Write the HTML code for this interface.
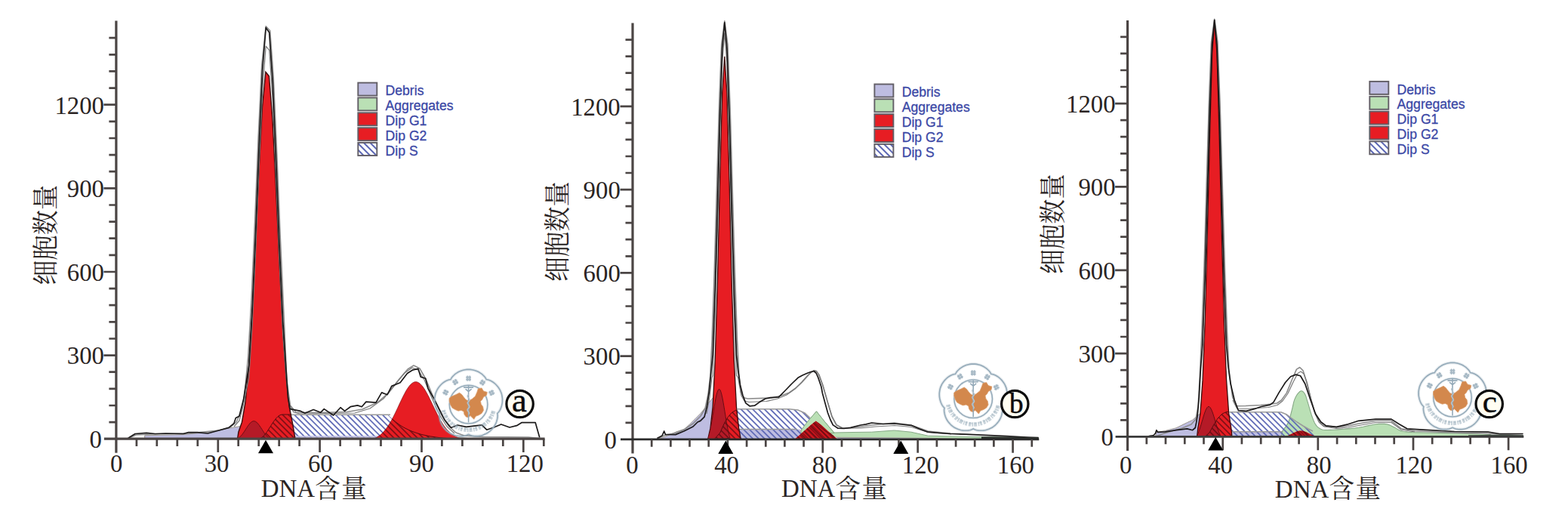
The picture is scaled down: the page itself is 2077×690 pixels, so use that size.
<!DOCTYPE html>
<html><head><meta charset="utf-8"><title>DNA content histograms</title><style>html,body{margin:0;padding:0;background:#fff}svg{display:block}</style></head><body><svg width="2077" height="690" viewBox="0 0 2077 690"><rect width="2077" height="690" fill="#fff"/><defs><pattern id="hb" width="5.5" height="5.5" patternUnits="userSpaceOnUse" patternTransform="rotate(45)"><path d="M0 2.7H5.5" stroke="#5b66b4" stroke-width="1.7"/></pattern><pattern id="hl" width="6" height="6" patternUnits="userSpaceOnUse" patternTransform="rotate(45)"><path d="M0 3H6" stroke="#5b66b4" stroke-width="2"/></pattern><pattern id="hd" width="5.5" height="5.5" patternUnits="userSpaceOnUse" patternTransform="rotate(45)"><path d="M0 2.7H5.5" stroke="#5a0a10" stroke-width="1.3"/></pattern><pattern id="hd2" width="4" height="4" patternUnits="userSpaceOnUse" patternTransform="rotate(45)"><path d="M0 2H4" stroke="#6a0a10" stroke-width="1.2"/></pattern></defs><path d="M191.7 581.2L191.7 576.8L242.7 575.6L277.5 572L300.7 567.5L321.6 564L340 562L360 566L382 575.5L440 577L520 578L600 579.5L640 581.2Z" fill="#bebde1" stroke="#9c978f" stroke-width="1"/><path d="M342 581.2L342 581.2L344 580.9L346 580L348 578.5L350 576.5L352 574L354 571.3L356 568.2L358 565.1L360 562L362 558.9L364 556.2L366 553.7L368 551.7L370 550.2L372 549.3L374 549L376 549L378 549L380 549L382 549L384 549L386 549L388 549L390 549L392 549L394 549L396 549L398 549L400 549L402 549L404 549L406 549L408 549L410 549L412 549L414 549L416 549L418 549L420 549L422 549L424 549L426 549L428 549L430 549L432 549L434 549L436 549L438 549L440 549L442 549L444 549L446 549L448 549L450 549L452 549L454 549L456 549L458 549L460 549L462 549L464 549L466 549L468 549L470 549L472 549L474 549L476 549L478 549L480 549L482 549L484 549L486 549L488 549L490 549L492 549L494 549L496 549L498 549L500 549L502 549L504 549L506 549L508 549L510 549L512 549L514 549L516 551.2L518 553.3L520 555.2L522 557L524 558.7L526 560.2L528 561.7L530 563.1L532 564.4L534 565.6L536 566.7L538 567.7L540 568.7L542 569.7L544 570.5L546 571.3L548 572.1L550 572.8L552 573.5L554 574.1L556 574.7L558 575.3L560 575.8L562 576.2L564 576.7L566 577.1L568 577.5L570 577.9L572 578.2L574 578.5L576 578.8L578 579.1L580 579.3L582 579.6L584 579.8L586 580L588 580.2L590 580.3L592 580.5L594 580.6L596 580.8L598 580.9L600 581L602 581.1L604 581.2L604 581.2Z" fill="#fff"/><path d="M342 581.2L342 581.2L344 580.9L346 580L348 578.5L350 576.5L352 574L354 571.3L356 568.2L358 565.1L360 562L362 558.9L364 556.2L366 553.7L368 551.7L370 550.2L372 549.3L374 549L376 549L378 549L380 549L382 549L384 549L386 549L388 549L390 549L392 549L394 549L396 549L398 549L400 549L402 549L404 549L406 549L408 549L410 549L412 549L414 549L416 549L418 549L420 549L422 549L424 549L426 549L428 549L430 549L432 549L434 549L436 549L438 549L440 549L442 549L444 549L446 549L448 549L450 549L452 549L454 549L456 549L458 549L460 549L462 549L464 549L466 549L468 549L470 549L472 549L474 549L476 549L478 549L480 549L482 549L484 549L486 549L488 549L490 549L492 549L494 549L496 549L498 549L500 549L502 549L504 549L506 549L508 549L510 549L512 549L514 549L516 551.2L518 553.3L520 555.2L522 557L524 558.7L526 560.2L528 561.7L530 563.1L532 564.4L534 565.6L536 566.7L538 567.7L540 568.7L542 569.7L544 570.5L546 571.3L548 572.1L550 572.8L552 573.5L554 574.1L556 574.7L558 575.3L560 575.8L562 576.2L564 576.7L566 577.1L568 577.5L570 577.9L572 578.2L574 578.5L576 578.8L578 579.1L580 579.3L582 579.6L584 579.8L586 580L588 580.2L590 580.3L592 580.5L594 580.6L596 580.8L598 580.9L600 581L602 581.1L604 581.2L604 581.2Z" fill="url(#hb)"/><path d="M384 577H520V581.2H384z" fill="#bebde1" opacity=".8"/><path d="M382 549.2H517" fill="none" stroke="#9a9a9a" stroke-width="1.6"/><clipPath id="cA"><path d="M314.6 581.2L315.9 572.2L320.4 559.2L324.9 533.1L329.4 487.3L333.9 417.5L338.4 326.5L342.9 227.4L347.4 142.3L351.9 95.2L356.4 100.7L360.9 157L365.4 246.9L369.9 345.9L374.4 433.4L378.9 498.3L383.4 539.7L387.9 562.6L391 581.2Z"/><path d="M494.7 581.2L495.7 580.8L496.7 580.4L497.7 579.9L498.7 579.4L499.7 578.8L500.7 578.2L501.7 577.5L502.7 576.8L503.7 576L504.7 575.2L505.7 574.3L506.7 573.3L507.7 572.3L508.7 571.2L509.7 570L510.7 568.8L511.7 567.5L512.7 566.1L513.7 564.7L514.7 563.1L515.7 561.6L516.7 559.9L517.7 558.2L518.7 556.4L519.7 554.6L520.7 552.7L521.7 550.7L522.7 548.7L523.7 546.7L524.7 544.6L525.7 542.5L526.7 540.4L527.7 538.2L528.7 536.1L529.7 533.9L530.7 531.8L531.7 529.7L532.7 527.6L533.7 525.6L534.7 523.6L535.7 521.7L536.7 519.8L537.7 518L538.7 516.3L539.7 514.7L540.7 513.2L541.7 511.9L542.7 510.6L543.7 509.5L544.7 508.5L545.7 507.7L546.7 507L547.7 506.4L548.7 506L549.7 505.8L550.7 505.7L551.7 505.8L552.7 506L553.7 506.4L554.7 506.9L555.7 507.6L556.7 508.4L557.7 509.4L558.7 510.5L559.7 511.7L560.7 513.1L561.7 514.5L562.7 516.1L563.7 517.8L564.7 519.5L565.7 521.3L566.7 523.2L567.7 525.1L568.7 527.1L569.7 529.2L570.7 531.2L571.7 533.3L572.7 535.4L573.7 537.5L574.7 539.6L575.7 541.7L576.7 543.7L577.7 545.8L578.7 547.8L579.7 549.7L580.7 551.6L581.7 553.5L582.7 555.3L583.7 557L584.7 558.7L585.7 560.3L586.7 561.9L587.7 563.3L588.7 564.8L589.7 566.1L590.7 567.4L591.7 568.6L592.7 569.7L593.7 570.8L594.7 571.8L595.7 572.7L596.7 573.6L597.7 574.4L598.7 575.2L599.7 575.9L600.7 576.6L601.7 577.2L602.7 577.7L603.7 578.2L604.7 578.7L605.7 579.1L606.7 579.5L607.7 579.9L608.7 580.2L609.7 580.5L610.7 580.8L611.7 581L612.7 581.2Z"/></clipPath><path d="M494.7 581.2L495.7 580.8L496.7 580.4L497.7 579.9L498.7 579.4L499.7 578.8L500.7 578.2L501.7 577.5L502.7 576.8L503.7 576L504.7 575.2L505.7 574.3L506.7 573.3L507.7 572.3L508.7 571.2L509.7 570L510.7 568.8L511.7 567.5L512.7 566.1L513.7 564.7L514.7 563.1L515.7 561.6L516.7 559.9L517.7 558.2L518.7 556.4L519.7 554.6L520.7 552.7L521.7 550.7L522.7 548.7L523.7 546.7L524.7 544.6L525.7 542.5L526.7 540.4L527.7 538.2L528.7 536.1L529.7 533.9L530.7 531.8L531.7 529.7L532.7 527.6L533.7 525.6L534.7 523.6L535.7 521.7L536.7 519.8L537.7 518L538.7 516.3L539.7 514.7L540.7 513.2L541.7 511.9L542.7 510.6L543.7 509.5L544.7 508.5L545.7 507.7L546.7 507L547.7 506.4L548.7 506L549.7 505.8L550.7 505.7L551.7 505.8L552.7 506L553.7 506.4L554.7 506.9L555.7 507.6L556.7 508.4L557.7 509.4L558.7 510.5L559.7 511.7L560.7 513.1L561.7 514.5L562.7 516.1L563.7 517.8L564.7 519.5L565.7 521.3L566.7 523.2L567.7 525.1L568.7 527.1L569.7 529.2L570.7 531.2L571.7 533.3L572.7 535.4L573.7 537.5L574.7 539.6L575.7 541.7L576.7 543.7L577.7 545.8L578.7 547.8L579.7 549.7L580.7 551.6L581.7 553.5L582.7 555.3L583.7 557L584.7 558.7L585.7 560.3L586.7 561.9L587.7 563.3L588.7 564.8L589.7 566.1L590.7 567.4L591.7 568.6L592.7 569.7L593.7 570.8L594.7 571.8L595.7 572.7L596.7 573.6L597.7 574.4L598.7 575.2L599.7 575.9L600.7 576.6L601.7 577.2L602.7 577.7L603.7 578.2L604.7 578.7L605.7 579.1L606.7 579.5L607.7 579.9L608.7 580.2L609.7 580.5L610.7 580.8L611.7 581L612.7 581.2Z" fill="#e71d23" stroke="#8a1216" stroke-width=".8"/><path d="M314.6 581.2L315.9 572.2L320.4 559.2L324.9 533.1L329.4 487.3L333.9 417.5L338.4 326.5L342.9 227.4L347.4 142.3L351.9 95.2L356.4 100.7L360.9 157L365.4 246.9L369.9 345.9L374.4 433.4L378.9 498.3L383.4 539.7L387.9 562.6L391 581.2Z" fill="#e71d23" stroke="#3a0c0c" stroke-width="1.4"/><g clip-path="url(#cA)"><path d="M314.7 581.2L315.7 580.5L316.7 579.7L317.7 578.8L318.7 577.8L319.7 576.7L320.7 575.5L321.7 574.2L322.7 572.8L323.7 571.3L324.7 569.8L325.7 568.2L326.7 566.7L327.7 565.2L328.7 563.7L329.7 562.4L330.7 561.1L331.7 560.1L332.7 559.1L333.7 558.4L334.7 558L335.7 557.7L336.7 557.7L337.7 558L338.7 558.4L339.7 559.1L340.7 560.1L341.7 561.1L342.7 562.4L343.7 563.7L344.7 565.2L345.7 566.7L346.7 568.2L347.7 569.8L348.7 571.3L349.7 572.8L350.7 574.2L351.7 575.5L352.7 576.7L353.7 577.8L354.7 578.8L355.7 579.7L356.7 580.5L357.7 581.2Z" fill="#b51a27" stroke="#6a0d14" stroke-width="1"/><path d="M342 581.2L342 581.2L344 580.9L346 580L348 578.5L350 576.5L352 574L354 571.3L356 568.2L358 565.1L360 562L362 558.9L364 556.2L366 553.7L368 551.7L370 550.2L372 549.3L374 549L376 549L378 549L380 549L382 549L384 549L386 549L388 549L390 549L392 549L394 549L396 549L398 549L400 549L402 549L404 549L406 549L408 549L410 549L412 549L414 549L416 549L418 549L420 549L422 549L424 549L426 549L428 549L430 549L432 549L434 549L436 549L438 549L440 549L442 549L444 549L446 549L448 549L450 549L452 549L454 549L456 549L458 549L460 549L462 549L464 549L466 549L468 549L470 549L472 549L474 549L476 549L478 549L480 549L482 549L484 549L486 549L488 549L490 549L492 549L494 549L496 549L498 549L500 549L502 549L504 549L506 549L508 549L510 549L512 549L514 549L516 551.2L518 553.3L520 555.2L522 557L524 558.7L526 560.2L528 561.7L530 563.1L532 564.4L534 565.6L536 566.7L538 567.7L540 568.7L542 569.7L544 570.5L546 571.3L548 572.1L550 572.8L552 573.5L554 574.1L556 574.7L558 575.3L560 575.8L562 576.2L564 576.7L566 577.1L568 577.5L570 577.9L572 578.2L574 578.5L576 578.8L578 579.1L580 579.3L582 579.6L584 579.8L586 580L588 580.2L590 580.3L592 580.5L594 580.6L596 580.8L598 580.9L600 581L602 581.1L604 581.2L604 581.2Z" fill="url(#hd)" stroke="#5a0c10" stroke-width="1"/></g><path d="M170 580.5L180 576L200 575L250 574L290 570L305 566L313 559L319 546L323.5 527L328.7 472.1L333.2 393.1L337.7 291.1L342.2 180.8L346.7 86.7L352.2 34.7L357.7 40.7L362.2 102.9L366.7 202.5L371.2 312.8L375.7 411L380 505L384.5 537L392 546L420 546.5L460 545.5L480 542L500 533L515 520L528 503L540 489L548 484L556 488L564 502L574 526L584 548L594 564L604 573L615 577L640 578.5L700 579L714 580.5" fill="none" stroke="#8c8c8c" stroke-width="1.6" stroke-linejoin="round"/><path d="M310 565L317 557L322 538L329.7 500.4L334.2 429.9L338.7 331.8L343.2 219.2L347.7 118.8L352.2 61.2L356.7 66.5L361.2 132.7L365.7 237.2L370.2 349L374.7 443.2L379 500L383 535L389 546L397 548L470 547L490 541L508 528L522 511L536 494L546 487L554 490L562 503L572 527L582 549L592 565L602 574" fill="none" stroke="#7a7a7a" stroke-width="1.2" stroke-linejoin="round"/><path d="M169.7 580.3L179 574.5L194 573.3L205.6 574.5L219.6 574L242.7 574.5L249.7 572.6L261.3 572.6L275.2 574L289.1 570.3L303 566.4L310 560.6L312.3 553.6L316.9 551.3L322.7 528.1L329.7 484.1L334.2 407.3L338.7 304.7L343.2 190.9L347.7 92L352.2 36.7L356.7 43.1L361.2 109.1L365.7 213.4L370.2 326.8L374.7 425L378.2 478L381.5 526.5L384.1 541.6L398.2 544.4L403.9 547.2L415.2 542.5L424.6 546.3L429.3 541.6L441.6 550L451 539.7L456.6 544.4L464.2 538.7L473.6 536.9L479.2 538.7L484.9 532.1L498 533.1L505.6 519.9L513.1 522.7L518.8 511.4L530.1 506.7L539.5 494.5L547 489.8L553.9 488.3L557.2 499.1L563.7 501.3L567 514.3L575.7 529.6L582.2 542.6L588.7 555.7L597.4 566.5L606 563L617.6 565.3L638.3 562.9L644.7 569.2L654.2 566L663.8 562L675 566L684.5 563.7L690.9 559.7L709.2 559.7L714.8 579.6" fill="none" stroke="#1c1a1a" stroke-width="1.7" stroke-linejoin="round"/><g transform="translate(620.6 534.6)" fill="none" stroke="#93a9b8"><path d="M44.4 0.5L43.9 2.8L43.2 5L42.3 7.2L41.2 9.3L39.9 11.2L38.2 12.9L38.6 15.3L38.5 17.6L38.1 19.9L37.6 22.2L36.9 24.4L36 26.6L34.9 28.7L33.6 30.7L32.1 32.6L30.5 34.4L28.8 36.1L26.9 37.6L24.9 38.9L22.8 40L20.6 41L18.4 41.8L16.1 42.4L13.7 42.8L11.4 43L9 43L6.7 42.8L4.4 42.4L2.2 41.7L0 40.7L-2.2 41.7L-4.4 42.4L-6.7 42.8L-9 43L-11.4 43L-13.7 42.8L-16.1 42.4L-18.4 41.8L-20.6 41L-22.8 40L-24.9 38.9L-26.9 37.6L-28.8 36.1L-30.5 34.4L-32.1 32.6L-33.6 30.7L-34.9 28.7L-36 26.6L-36.9 24.4L-37.6 22.2L-38.1 19.9L-38.5 17.6L-38.6 15.3L-38.2 12.9L-39.9 11.2L-41.2 9.3L-42.3 7.2L-43.2 5L-43.9 2.8L-44.4 0.5L-44.8 -1.8L-44.9 -4.2L-44.9 -6.6L-44.6 -9L-44.2 -11.3L-43.6 -13.7L-42.7 -15.9L-41.7 -18.1L-40.5 -20.1L-39.1 -22.1L-37.6 -23.9L-36 -25.6L-34.2 -27.2L-32.3 -28.6L-30.3 -29.8L-28.2 -30.8L-26 -31.6L-23.6 -32L-22.5 -34.1L-21 -36L-19.4 -37.6L-17.7 -39.2L-15.8 -40.5L-13.7 -41.8L-11.6 -42.8L-9.4 -43.7L-7.1 -44.4L-4.8 -44.9L-2.4 -45.2L0 -45.3L2.4 -45.2L4.8 -44.9L7.1 -44.4L9.4 -43.7L11.6 -42.8L13.7 -41.8L15.8 -40.5L17.7 -39.2L19.4 -37.6L21 -36L22.5 -34.1L23.6 -32L26 -31.6L28.2 -30.8L30.3 -29.8L32.3 -28.6L34.2 -27.2L36 -25.6L37.6 -23.9L39.1 -22.1L40.5 -20.1L41.7 -18.1L42.7 -15.9L43.6 -13.7L44.2 -11.3L44.6 -9L44.9 -6.6L44.9 -4.2L44.8 -1.8Z" stroke-width="4" opacity=".22"/><path d="M44.4 0.5L43.9 2.8L43.2 5L42.3 7.2L41.2 9.3L39.9 11.2L38.2 12.9L38.6 15.3L38.5 17.6L38.1 19.9L37.6 22.2L36.9 24.4L36 26.6L34.9 28.7L33.6 30.7L32.1 32.6L30.5 34.4L28.8 36.1L26.9 37.6L24.9 38.9L22.8 40L20.6 41L18.4 41.8L16.1 42.4L13.7 42.8L11.4 43L9 43L6.7 42.8L4.4 42.4L2.2 41.7L0 40.7L-2.2 41.7L-4.4 42.4L-6.7 42.8L-9 43L-11.4 43L-13.7 42.8L-16.1 42.4L-18.4 41.8L-20.6 41L-22.8 40L-24.9 38.9L-26.9 37.6L-28.8 36.1L-30.5 34.4L-32.1 32.6L-33.6 30.7L-34.9 28.7L-36 26.6L-36.9 24.4L-37.6 22.2L-38.1 19.9L-38.5 17.6L-38.6 15.3L-38.2 12.9L-39.9 11.2L-41.2 9.3L-42.3 7.2L-43.2 5L-43.9 2.8L-44.4 0.5L-44.8 -1.8L-44.9 -4.2L-44.9 -6.6L-44.6 -9L-44.2 -11.3L-43.6 -13.7L-42.7 -15.9L-41.7 -18.1L-40.5 -20.1L-39.1 -22.1L-37.6 -23.9L-36 -25.6L-34.2 -27.2L-32.3 -28.6L-30.3 -29.8L-28.2 -30.8L-26 -31.6L-23.6 -32L-22.5 -34.1L-21 -36L-19.4 -37.6L-17.7 -39.2L-15.8 -40.5L-13.7 -41.8L-11.6 -42.8L-9.4 -43.7L-7.1 -44.4L-4.8 -44.9L-2.4 -45.2L0 -45.3L2.4 -45.2L4.8 -44.9L7.1 -44.4L9.4 -43.7L11.6 -42.8L13.7 -41.8L15.8 -40.5L17.7 -39.2L19.4 -37.6L21 -36L22.5 -34.1L23.6 -32L26 -31.6L28.2 -30.8L30.3 -29.8L32.3 -28.6L34.2 -27.2L36 -25.6L37.6 -23.9L39.1 -22.1L40.5 -20.1L41.7 -18.1L42.7 -15.9L43.6 -13.7L44.2 -11.3L44.6 -9L44.9 -6.6L44.9 -4.2L44.8 -1.8Z" stroke-width="1.6"/><circle r="25.3" cy="1" stroke-width="3.4" opacity=".2"/><circle r="25.3" cy="1" stroke-width="1.5"/><path d="M-33.5 8.5A34.5 34.5 0 0 0 33.5 8.5" stroke-width="5.6" stroke-dasharray="3 1.3 2 .9 4 1.5 1.5 1.1 2.6 1.8" opacity=".5"/><path d="M-32.5 9.5A34 34 0 0 0 32.5 9.5" stroke-width="2.2" stroke-dasharray="5 2.4 3 2" opacity=".35"/><g transform="translate(-30.3 -14.9) rotate(-63)" stroke-width="1.3" opacity=".85"><rect x="-3.2" y="-3.2" width="6.4" height="6.4" fill="#c3d0d8" stroke="none"/><path d="M-3.4 -1.2H3.4M-3.4 1.6H3.4M-1.4 -3.6V3.6M1.6 -3.6V3.6"/></g><g transform="translate(-17.5 -28.6) rotate(-31)" stroke-width="1.3" opacity=".85"><rect x="-3.2" y="-3.2" width="6.4" height="6.4" fill="#c3d0d8" stroke="none"/><path d="M-3.4 -1.2H3.4M-3.4 1.6H3.4M-1.4 -3.6V3.6M1.6 -3.6V3.6"/></g><g transform="translate(0 -33.5) rotate(0)" stroke-width="1.3" opacity=".85"><rect x="-3.2" y="-3.2" width="6.4" height="6.4" fill="#c3d0d8" stroke="none"/><path d="M-3.4 -1.2H3.4M-3.4 1.6H3.4M-1.4 -3.6V3.6M1.6 -3.6V3.6"/></g><g transform="translate(18.5 -28) rotate(33)" stroke-width="1.3" opacity=".85"><rect x="-3.2" y="-3.2" width="6.4" height="6.4" fill="#c3d0d8" stroke="none"/><path d="M-3.4 -1.2H3.4M-3.4 1.6H3.4M-1.4 -3.6V3.6M1.6 -3.6V3.6"/></g><g transform="translate(30.6 -14.4) rotate(64)" stroke-width="1.3" opacity=".85"><rect x="-3.2" y="-3.2" width="6.4" height="6.4" fill="#c3d0d8" stroke="none"/><path d="M-3.4 -1.2H3.4M-3.4 1.6H3.4M-1.4 -3.6V3.6M1.6 -3.6V3.6"/></g><path stroke="#dca06f" stroke-width=".8" fill="#d3884d" d="M-25.5 -7.2L-22.3 -9.6L-16.7 -12L-12 -14.4L-8.8 -12L-6.4 -8.8L-3.5 -5.3L0 -3.5L4.5 -6.1L8.8 -9.6L11.2 -15.2L12.8 -19.9L17.5 -20.7L19.9 -16.7L24.7 -15.2L23.9 -11.2L19.9 -8.8L18.3 -5.6L15.9 -3.2L16.7 0.8L19.1 4L19.9 8.8L17.5 12.8L13.6 15.2L9.6 16.7L7.2 20.7L4.8 18.3L2.4 15.9L0 18.3L-3.2 17.5L-5.6 14.4L-6.4 10.4L-9.6 8.8L-13.6 9.6L-17.5 8L-21.5 5.6L-23.9 1.6L-25.5 -3.2Z"/><path d="M0 -23.5V25M-6.5 -21.5H6.5M-4 -19.5L0 -16 4 -19.5" stroke-width="1.6"/><path d="M0 -12c-5 3 5 6 0 9s5 6 0 9 4 6 0 8" stroke-width="1.5" stroke="#b4c3cd"/></g><circle cx="688.6" cy="535" r="17.7" fill="#fffef2" stroke="#0b0b0b" stroke-width="3.2"/><text x="678.1" y="544.9" font-family="Liberation Serif, serif" font-size="44.5" fill="#0b0b0b" stroke="#0b0b0b" stroke-width=".5">a</text><path d="M153.9 27.4V599.7" stroke="#4b4544" stroke-width="3.2" fill="none"/><path d="M137.9 581.2H721.6" stroke="#4b4544" stroke-width="3.2" fill="none"/><path d="M144.4 559.1h9.5M144.4 537h9.5M144.4 514.8h9.5M144.4 492.7h9.5M137.4 470.6h16.5M144.4 448.5h9.5M144.4 426.3h9.5M144.4 404.2h9.5M144.4 382.1h9.5M137.4 360h16.5M144.4 337.8h9.5M144.4 315.7h9.5M144.4 293.6h9.5M144.4 271.5h9.5M137.4 249.3h16.5M144.4 227.2h9.5M144.4 205.1h9.5M144.4 183h9.5M144.4 160.8h9.5M137.4 138.7h16.5M144.4 116.6h9.5M144.4 94.4h9.5M144.4 72.3h9.5M144.4 50.2h9.5M180.9 581.2v9.8M207.8 581.2v9.8M234.8 581.2v9.8M261.8 581.2v9.8M288.8 581.2v17.8M315.7 581.2v9.8M342.7 581.2v9.8M369.7 581.2v9.8M396.6 581.2v9.8M423.6 581.2v17.8M450.6 581.2v9.8M477.5 581.2v9.8M504.5 581.2v9.8M531.5 581.2v9.8M558.5 581.2v17.8M585.4 581.2v9.8M612.4 581.2v9.8M639.4 581.2v9.8M666.3 581.2v9.8M693.3 581.2v17.8M720.3 581.2v9.8" stroke="#4b4544" stroke-width="2.7" fill="none"/><g font-family="Liberation Serif, serif" font-size="32.8" fill="#2a2423"><text transform="translate(118.4 593) scale(1 1.035)" text-anchor="start">0</text><text transform="translate(88.8 482.4) scale(1 1.035)" text-anchor="start">300</text><text transform="translate(88.8 371.8) scale(1 1.035)" text-anchor="start">600</text><text transform="translate(88.8 261.1) scale(1 1.035)" text-anchor="start">900</text><text transform="translate(72.4 150.5) scale(1 1.035)" text-anchor="start">1200</text><text transform="translate(145.9 625.3) scale(1 1.035)" text-anchor="start">0</text><text transform="translate(270.7 625.3) scale(1 1.035)" text-anchor="start">30</text><text transform="translate(407.9 625.3) scale(1 1.035)" text-anchor="start">60</text><text transform="translate(542.1 625.3) scale(1 1.035)" text-anchor="start">90</text><text transform="translate(670.7 625.3) scale(1 1.035)" text-anchor="start">120</text></g><path d="M352 582.7l-10 17.5h20z" fill="#000"/><g transform="translate(73.1 377.6) rotate(-90)"><text transform="scale(1 1.06)" x="0 33.2 66.4 99.6" y="0" font-family="'Liberation Serif', 'Noto Serif CJK SC', serif" font-size="33" fill="#2a2423">细胞数量</text></g><text transform="translate(345.7 658.3) scale(1 1.035)" font-family="Liberation Serif, serif" font-size="33" fill="#2a2423">DNA</text><text transform="translate(417.3 659.2) scale(1 1.03)" x="0 35" y="0" font-family="'Liberation Serif', 'Noto Serif CJK SC', serif" font-size="33.5" fill="#2a2423">含量</text><g font-family="Liberation Sans, sans-serif" font-size="17.6" fill="#3b48a6" stroke="#3b48a6" stroke-width=".3"><rect x="474.3" y="109.6" width="25" height="17" fill="#bebde1" stroke="#625e66" stroke-width="1.9"/><text x="510.6" y="126.2">Debris</text><rect x="474.3" y="129.4" width="25" height="17" fill="#bae0b5" stroke="#625e66" stroke-width="1.9"/><text x="510.6" y="146">Aggregates</text><rect x="474.3" y="149.3" width="25" height="17" fill="#e71d23" stroke="#625e66" stroke-width="1.9"/><text x="510.6" y="165.9">Dip G1</text><rect x="474.3" y="169.2" width="25" height="17" fill="#e71d23" stroke="#625e66" stroke-width="1.9"/><text x="510.6" y="185.8">Dip G2</text><rect x="474.3" y="189" width="25" height="17" fill="#fff"/><rect x="474.3" y="189" width="25" height="17" fill="url(#hl)" stroke="#625e66" stroke-width="1.9"/><text x="510.6" y="205.6">Dip S</text></g><path d="M1058 581.9L1060.4 570.7L1070 558L1081.5 544.8L1092 558L1105 573L1130 572.5L1154.6 572.2L1184.5 570L1206.9 572.2L1229.3 577.2L1280 578.3L1333.7 579L1362 580.2L1370 581.9Z" fill="#bae0b5" stroke="#86a886" stroke-width="1"/><path d="M874 581.9L877.6 579.5L886 576.3L895.7 571.9L906.6 568.3L913.8 561.7L921.1 554.5L928.3 547.2L934.1 540L940 532L944.6 526.5L952 521L960 530L972 556L980.6 568.4L1000 568.8L1040 570.5L1059 573.5L1075 578L1110 579.3L1230 580.3L1300 581.9Z" fill="#bebde1" stroke="#9c978f" stroke-width="1"/><path d="M946 581.9L953.9 573L959.1 561.3L964.3 552.2L969.5 546.3L974.8 543.2L980 541.8L1045 541.8L1057 543L1066 547L1073 553.6L1082 562L1092 570L1104 577L1112 581.9Z" fill="#fff"/><path d="M978 568.4H1059L1075 578V581.9H978z" fill="#bebde1"/><path d="M946 581.9L953.9 573L959.1 561.3L964.3 552.2L969.5 546.3L974.8 543.2L980 541.8L1045 541.8L1057 543L1066 547L1073 553.6L1082 562L1092 570L1104 577L1112 581.9Z" fill="url(#hb)"/><path d="M977 541.8H1045L1057 543 1066 547 1073 553.6M979 568.4H1056" fill="none" stroke="#9a9a9a" stroke-width="1.5"/><path d="M1061 570L1070 558 1081.5 544.8 1092 558 1105 573.5H1061z" fill="#bae0b5" stroke="#86a886" stroke-width="1"/><clipPath id="cB"><path d="M937.6 581.9L940.9 567.4L944.1 539L947.2 477.5L950.4 373.5L953.5 240.4L956.7 122.6L959.8 74.9L962.9 122.6L966.1 240.4L969.2 373.5L972.4 477.5L975.5 539L978.7 567.4L981.3 581.9Z"/><path d="M1052.3 581.9L1066 570L1075 562L1080.7 557.5L1087 562L1097 571L1110 581.9Z"/></clipPath><path d="M937.6 581.9L940.9 567.4L944.1 539L947.2 477.5L950.4 373.5L953.5 240.4L956.7 122.6L959.8 74.9L962.9 122.6L966.1 240.4L969.2 373.5L972.4 477.5L975.5 539L978.7 567.4L981.3 581.9Z" fill="#e71d23" stroke="#3a0c0c" stroke-width="1.3"/><path d="M1052.3 581.9L1066 570L1075 562L1080.7 557.5L1087 562L1097 571L1110 581.9Z" fill="#d3171f"/><g clip-path="url(#cB)"><path d="M937.1 581.9L938.1 579.1L939.1 575.7L940.1 571.7L941.1 567.2L942.1 562.1L943.1 556.6L944.1 550.7L945.1 544.7L946.1 538.7L947.1 532.9L948.1 527.6L949.1 523L950.1 519.4L951.1 516.9L952.1 515.6L953.1 515.6L954.1 516.9L955.1 519.5L956.1 523.2L957.1 527.9L958.1 533.3L959.1 539.2L960.1 545.3L961.1 551.5L962.1 557.5L963.1 563.1L964.1 568.3L965.1 572.9L966.1 576.9L967.1 580.4Z" fill="#b51a27" stroke="#6a0d14" stroke-width="1"/><path d="M946 581.9L953.9 573L959.1 561.3L964.3 552.2L969.5 546.3L974.8 543.2L980 541.8L1045 541.8L1057 543L1066 547L1073 553.6L1082 562L1092 570L1104 577L1112 581.9Z" fill="url(#hd)" stroke="#5a0c10" stroke-width="1"/><path d="M1052.3 581.9L1066 570L1075 562L1080.7 557.5L1087 562L1097 571L1110 581.9Z" fill="url(#hd2)"/></g><path d="M872 581L880 576.5L895 573.5L906 569L918 561L928 551L934 541L938 522L940.8 498L943.1 450.2L946.2 361L949.4 251.6L952.5 141.6L955.7 58.8L959.8 27.9L963.9 58.8L967.1 141.6L970.2 251.6L973.4 361L976.5 450.2L978.8 494L981.3 519.6L985.2 526.7L990.4 528L1011.3 527.4L1022.3 527L1035 524L1045.5 520L1054 514L1061.7 507L1068 500L1073 494.5L1078 490.5L1082 492L1085 498L1090 511L1096 532L1102 552L1108 563L1116 567L1130 566.5L1154.6 563L1184.5 560L1206.9 563L1229.3 571L1259 574L1300 576.5L1333.7 578L1375 580.5" fill="none" stroke="#8c8c8c" stroke-width="1.6" stroke-linejoin="round"/><path d="M936 548L940 526L943 500L944.1 497.2L947.2 417.2L950.4 305.4L953.5 181.7L956.7 82.3L959.8 43.9L962.9 82.3L966.1 181.7L969.2 305.4L972.4 417.2L975.5 497.2L977.5 500L982 524L986 531L992 532.5L1015 531.5L1030 528L1042 523L1053 515L1062 506L1070 497L1076 492L1081 491L1085 496L1090 510L1096 531L1102 551L1108 562.5L1116 567L1140 567L1160 565L1185 563.5L1207 565.5L1229 572.5L1260 575" fill="none" stroke="#7a7a7a" stroke-width="1.2" stroke-linejoin="round"/><path d="M870.4 580.5L877 577L879.7 571L881.5 575.5L894.8 575.6L906 571L918 565L924 559L927.8 557.4L933 552.2L936.3 539.1L939.6 517L941.8 494L944.1 469.8L947.2 382.9L950.4 271L953.5 154.2L956.7 64L959.8 29.9L962.9 64L966.1 154.2L969.2 271L972.4 382.9L975.5 469.8L977.8 492L980.5 510L983.9 523.5L987.8 533.9L993 537.8L999.5 537.2L1006 532.6L1013.9 528L1020 526.7L1031.6 525.8L1040.8 516.5L1049 508L1057 500.3L1063 497L1068.7 494.5L1074 492.5L1078 491.5L1081 494L1083.7 500L1087.8 512L1089.5 521L1093 534L1096.5 546.7L1100 556L1103.4 562.9L1110 567.2L1118 567.5L1126.6 566.4L1140 563L1147.2 561.8L1154.6 560L1170 561.5L1185 561L1206.9 563.3L1218 568L1229.3 572.2L1245 573.5L1259 574.5L1290 575.5L1333.7 577.5L1360 579L1375.5 579.7" fill="none" stroke="#1c1a1a" stroke-width="1.7" stroke-linejoin="round"/><path d="M1300 578.6L1340 578.4 1376 579.3V581H1300z" fill="#2a2f2a"/><g transform="translate(1289.2 527.3)" fill="none" stroke="#93a9b8"><path d="M44.4 0.5L43.9 2.8L43.2 5L42.3 7.2L41.2 9.3L39.9 11.2L38.2 12.9L38.6 15.3L38.5 17.6L38.1 19.9L37.6 22.2L36.9 24.4L36 26.6L34.9 28.7L33.6 30.7L32.1 32.6L30.5 34.4L28.8 36.1L26.9 37.6L24.9 38.9L22.8 40L20.6 41L18.4 41.8L16.1 42.4L13.7 42.8L11.4 43L9 43L6.7 42.8L4.4 42.4L2.2 41.7L0 40.7L-2.2 41.7L-4.4 42.4L-6.7 42.8L-9 43L-11.4 43L-13.7 42.8L-16.1 42.4L-18.4 41.8L-20.6 41L-22.8 40L-24.9 38.9L-26.9 37.6L-28.8 36.1L-30.5 34.4L-32.1 32.6L-33.6 30.7L-34.9 28.7L-36 26.6L-36.9 24.4L-37.6 22.2L-38.1 19.9L-38.5 17.6L-38.6 15.3L-38.2 12.9L-39.9 11.2L-41.2 9.3L-42.3 7.2L-43.2 5L-43.9 2.8L-44.4 0.5L-44.8 -1.8L-44.9 -4.2L-44.9 -6.6L-44.6 -9L-44.2 -11.3L-43.6 -13.7L-42.7 -15.9L-41.7 -18.1L-40.5 -20.1L-39.1 -22.1L-37.6 -23.9L-36 -25.6L-34.2 -27.2L-32.3 -28.6L-30.3 -29.8L-28.2 -30.8L-26 -31.6L-23.6 -32L-22.5 -34.1L-21 -36L-19.4 -37.6L-17.7 -39.2L-15.8 -40.5L-13.7 -41.8L-11.6 -42.8L-9.4 -43.7L-7.1 -44.4L-4.8 -44.9L-2.4 -45.2L0 -45.3L2.4 -45.2L4.8 -44.9L7.1 -44.4L9.4 -43.7L11.6 -42.8L13.7 -41.8L15.8 -40.5L17.7 -39.2L19.4 -37.6L21 -36L22.5 -34.1L23.6 -32L26 -31.6L28.2 -30.8L30.3 -29.8L32.3 -28.6L34.2 -27.2L36 -25.6L37.6 -23.9L39.1 -22.1L40.5 -20.1L41.7 -18.1L42.7 -15.9L43.6 -13.7L44.2 -11.3L44.6 -9L44.9 -6.6L44.9 -4.2L44.8 -1.8Z" stroke-width="4" opacity=".22"/><path d="M44.4 0.5L43.9 2.8L43.2 5L42.3 7.2L41.2 9.3L39.9 11.2L38.2 12.9L38.6 15.3L38.5 17.6L38.1 19.9L37.6 22.2L36.9 24.4L36 26.6L34.9 28.7L33.6 30.7L32.1 32.6L30.5 34.4L28.8 36.1L26.9 37.6L24.9 38.9L22.8 40L20.6 41L18.4 41.8L16.1 42.4L13.7 42.8L11.4 43L9 43L6.7 42.8L4.4 42.4L2.2 41.7L0 40.7L-2.2 41.7L-4.4 42.4L-6.7 42.8L-9 43L-11.4 43L-13.7 42.8L-16.1 42.4L-18.4 41.8L-20.6 41L-22.8 40L-24.9 38.9L-26.9 37.6L-28.8 36.1L-30.5 34.4L-32.1 32.6L-33.6 30.7L-34.9 28.7L-36 26.6L-36.9 24.4L-37.6 22.2L-38.1 19.9L-38.5 17.6L-38.6 15.3L-38.2 12.9L-39.9 11.2L-41.2 9.3L-42.3 7.2L-43.2 5L-43.9 2.8L-44.4 0.5L-44.8 -1.8L-44.9 -4.2L-44.9 -6.6L-44.6 -9L-44.2 -11.3L-43.6 -13.7L-42.7 -15.9L-41.7 -18.1L-40.5 -20.1L-39.1 -22.1L-37.6 -23.9L-36 -25.6L-34.2 -27.2L-32.3 -28.6L-30.3 -29.8L-28.2 -30.8L-26 -31.6L-23.6 -32L-22.5 -34.1L-21 -36L-19.4 -37.6L-17.7 -39.2L-15.8 -40.5L-13.7 -41.8L-11.6 -42.8L-9.4 -43.7L-7.1 -44.4L-4.8 -44.9L-2.4 -45.2L0 -45.3L2.4 -45.2L4.8 -44.9L7.1 -44.4L9.4 -43.7L11.6 -42.8L13.7 -41.8L15.8 -40.5L17.7 -39.2L19.4 -37.6L21 -36L22.5 -34.1L23.6 -32L26 -31.6L28.2 -30.8L30.3 -29.8L32.3 -28.6L34.2 -27.2L36 -25.6L37.6 -23.9L39.1 -22.1L40.5 -20.1L41.7 -18.1L42.7 -15.9L43.6 -13.7L44.2 -11.3L44.6 -9L44.9 -6.6L44.9 -4.2L44.8 -1.8Z" stroke-width="1.6"/><circle r="25.3" cy="1" stroke-width="3.4" opacity=".2"/><circle r="25.3" cy="1" stroke-width="1.5"/><path d="M-33.5 8.5A34.5 34.5 0 0 0 33.5 8.5" stroke-width="5.6" stroke-dasharray="3 1.3 2 .9 4 1.5 1.5 1.1 2.6 1.8" opacity=".5"/><path d="M-32.5 9.5A34 34 0 0 0 32.5 9.5" stroke-width="2.2" stroke-dasharray="5 2.4 3 2" opacity=".35"/><g transform="translate(-30.3 -14.9) rotate(-63)" stroke-width="1.3" opacity=".85"><rect x="-3.2" y="-3.2" width="6.4" height="6.4" fill="#c3d0d8" stroke="none"/><path d="M-3.4 -1.2H3.4M-3.4 1.6H3.4M-1.4 -3.6V3.6M1.6 -3.6V3.6"/></g><g transform="translate(-17.5 -28.6) rotate(-31)" stroke-width="1.3" opacity=".85"><rect x="-3.2" y="-3.2" width="6.4" height="6.4" fill="#c3d0d8" stroke="none"/><path d="M-3.4 -1.2H3.4M-3.4 1.6H3.4M-1.4 -3.6V3.6M1.6 -3.6V3.6"/></g><g transform="translate(0 -33.5) rotate(0)" stroke-width="1.3" opacity=".85"><rect x="-3.2" y="-3.2" width="6.4" height="6.4" fill="#c3d0d8" stroke="none"/><path d="M-3.4 -1.2H3.4M-3.4 1.6H3.4M-1.4 -3.6V3.6M1.6 -3.6V3.6"/></g><g transform="translate(18.5 -28) rotate(33)" stroke-width="1.3" opacity=".85"><rect x="-3.2" y="-3.2" width="6.4" height="6.4" fill="#c3d0d8" stroke="none"/><path d="M-3.4 -1.2H3.4M-3.4 1.6H3.4M-1.4 -3.6V3.6M1.6 -3.6V3.6"/></g><g transform="translate(30.6 -14.4) rotate(64)" stroke-width="1.3" opacity=".85"><rect x="-3.2" y="-3.2" width="6.4" height="6.4" fill="#c3d0d8" stroke="none"/><path d="M-3.4 -1.2H3.4M-3.4 1.6H3.4M-1.4 -3.6V3.6M1.6 -3.6V3.6"/></g><path stroke="#dca06f" stroke-width=".8" fill="#d3884d" d="M-25.5 -7.2L-22.3 -9.6L-16.7 -12L-12 -14.4L-8.8 -12L-6.4 -8.8L-3.5 -5.3L0 -3.5L4.5 -6.1L8.8 -9.6L11.2 -15.2L12.8 -19.9L17.5 -20.7L19.9 -16.7L24.7 -15.2L23.9 -11.2L19.9 -8.8L18.3 -5.6L15.9 -3.2L16.7 0.8L19.1 4L19.9 8.8L17.5 12.8L13.6 15.2L9.6 16.7L7.2 20.7L4.8 18.3L2.4 15.9L0 18.3L-3.2 17.5L-5.6 14.4L-6.4 10.4L-9.6 8.8L-13.6 9.6L-17.5 8L-21.5 5.6L-23.9 1.6L-25.5 -3.2Z"/><path d="M0 -23.5V25M-6.5 -21.5H6.5M-4 -19.5L0 -16 4 -19.5" stroke-width="1.6"/><path d="M0 -12c-5 3 5 6 0 9s5 6 0 9 4 6 0 8" stroke-width="1.5" stroke="#b4c3cd"/></g><circle cx="1344.3" cy="535" r="17.7" fill="#fffef2" stroke="#0b0b0b" stroke-width="3.2"/><text x="1336.9" y="547.3" font-family="Liberation Serif, serif" font-size="37.2" fill="#0b0b0b" stroke="#0b0b0b" stroke-width=".5">b</text><path d="M838 30.4V600.4" stroke="#4b4544" stroke-width="3.2" fill="none"/><path d="M822 581.9H1376.3" stroke="#2b2b2b" stroke-width="2.6" fill="none"/><path d="M828.5 559.8h9.5M828.5 537.8h9.5M828.5 515.7h9.5M828.5 493.7h9.5M821.5 471.6h16.5M828.5 449.6h9.5M828.5 427.5h9.5M828.5 405.5h9.5M828.5 383.4h9.5M821.5 361.4h16.5M828.5 339.3h9.5M828.5 317.2h9.5M828.5 295.2h9.5M828.5 273.1h9.5M821.5 251.1h16.5M828.5 229h9.5M828.5 207h9.5M828.5 184.9h9.5M828.5 162.9h9.5M821.5 140.8h16.5M828.5 118.7h9.5M828.5 96.7h9.5M828.5 74.6h9.5M828.5 52.6h9.5M863.2 581.9v9.8M888.4 581.9v9.8M913.5 581.9v9.8M938.7 581.9v9.8M963.9 581.9v17.8M989.1 581.9v9.8M1014.3 581.9v9.8M1039.4 581.9v9.8M1064.6 581.9v9.8M1089.8 581.9v17.8M1115 581.9v9.8M1140.2 581.9v9.8M1165.3 581.9v9.8M1190.5 581.9v9.8M1215.7 581.9v17.8M1240.9 581.9v9.8M1266.1 581.9v9.8M1291.2 581.9v9.8M1316.4 581.9v9.8M1341.6 581.9v17.8M1366.8 581.9v9.8" stroke="#4b4544" stroke-width="2.7" fill="none"/><g font-family="Liberation Serif, serif" font-size="32.8" fill="#2a2423"><text transform="translate(800.6 593.7) scale(1 1.035)" text-anchor="start">0</text><text transform="translate(772.6 483.4) scale(1 1.035)" text-anchor="start">300</text><text transform="translate(772.6 373.2) scale(1 1.035)" text-anchor="start">600</text><text transform="translate(772.6 262.9) scale(1 1.035)" text-anchor="start">900</text><text transform="translate(756.2 152.6) scale(1 1.035)" text-anchor="start">1200</text><text transform="translate(829.2 627) scale(1 1.035)" text-anchor="start">0</text><text transform="translate(946.2 627) scale(1 1.035)" text-anchor="start">40</text><text transform="translate(1075.8 627) scale(1 1.035)" text-anchor="start">80</text><text transform="translate(1194.8 627) scale(1 1.035)" text-anchor="start">120</text><text transform="translate(1320.8 627) scale(1 1.035)" text-anchor="start">160</text></g><path d="M961.3 583.4l-10 17.5h20z" fill="#000"/><path d="M1193.3 583.4l-10 17.5h20z" fill="#000"/><g transform="translate(750.9 373.1) rotate(-90)"><text transform="scale(1 1.06)" x="0 33.2 66.4 99.6" y="0" font-family="'Liberation Serif', 'Noto Serif CJK SC', serif" font-size="33" fill="#2a2423">细胞数量</text></g><text transform="translate(1034.9 658.3) scale(1 1.035)" font-family="Liberation Serif, serif" font-size="33" fill="#2a2423">DNA</text><text transform="translate(1106.5 659.2) scale(1 1.03)" x="0 35" y="0" font-family="'Liberation Serif', 'Noto Serif CJK SC', serif" font-size="33.5" fill="#2a2423">含量</text><g font-family="Liberation Sans, sans-serif" font-size="17.6" fill="#3b48a6" stroke="#3b48a6" stroke-width=".3"><rect x="1158.4" y="111.5" width="25" height="17" fill="#bebde1" stroke="#625e66" stroke-width="1.9"/><text x="1194.7" y="128.1">Debris</text><rect x="1158.4" y="131.3" width="25" height="17" fill="#bae0b5" stroke="#625e66" stroke-width="1.9"/><text x="1194.7" y="147.9">Aggregates</text><rect x="1158.4" y="151.2" width="25" height="17" fill="#e71d23" stroke="#625e66" stroke-width="1.9"/><text x="1194.7" y="167.8">Dip G1</text><rect x="1158.4" y="171.1" width="25" height="17" fill="#e71d23" stroke="#625e66" stroke-width="1.9"/><text x="1194.7" y="187.7">Dip G2</text><rect x="1158.4" y="190.9" width="25" height="17" fill="#fff"/><rect x="1158.4" y="190.9" width="25" height="17" fill="url(#hl)" stroke="#625e66" stroke-width="1.9"/><text x="1194.7" y="207.5">Dip S</text></g><path d="M1530.4 578.4L1531.9 572.5L1543.5 570.5L1558 566.8L1572.5 559.6L1579.7 556.3L1586 550.8L1592 546L1600 548L1615 560L1627.4 571.7L1660 572.3L1700 573.5L1720 576L1740 578.4Z" fill="#bebde1" stroke="#9c978f" stroke-width="1"/><path d="M1596 578.4L1602 573L1607.5 563L1613 554L1619 548L1624.8 545.4L1630 545.7L1690 545.7L1697.4 546L1704.3 549L1710.4 553.5L1718 559L1726 564L1733 568L1739 571L1746 578.4Z" fill="#fff"/><path d="M1629 571.7H1700L1720 576 1740 578.4H1629z" fill="#bebde1"/><path d="M1697 578.4L1699.1 570L1700.4 568.4L1702.3 566.1L1704.3 563.3L1706 560.4L1707.3 557.3L1708.4 553.9L1709.4 550.3L1710.4 546.5L1711.5 542.2L1712.6 537.5L1713.6 532.9L1714.8 529.1L1716.1 526.2L1717.4 523.8L1718.7 521.9L1720 520.4L1721.1 519.2L1722.2 518.3L1723.2 517.8L1724.3 517.8L1725.4 518.3L1726.5 519.2L1727.7 520.5L1728.7 522.2L1729.6 524.2L1730.4 526.6L1731.2 529.4L1732.2 532.6L1733.4 536.6L1734.7 541.2L1736.1 545.9L1737.4 550L1738.7 553.6L1739.9 556.8L1741.2 559.7L1742.6 562.2L1744.2 564.3L1745.9 565.9L1747.7 567.3L1749.6 568.3L1751.4 569L1753.2 569.3L1755.4 569.5L1758.3 569.5L1762.2 569.4L1766.9 569.2L1772.1 568.9L1777.3 568.5L1782.7 568.1L1788.3 567.6L1794 567L1799.7 566.3L1805.5 565.2L1811.4 563.9L1817 562.7L1822.1 561.8L1826.5 561.4L1830.3 561.2L1833.8 561.4L1837 561.8L1839.9 562.6L1842.4 563.7L1844.9 565L1847.5 566.3L1850 567.6L1852.2 569.1L1855.1 570.4L1859.4 571.5L1864.6 572.1L1870.4 572.5L1878.3 572.7L1889.3 573L1906.2 573.4L1927.5 573.7L1948.4 574.1L1963.9 574.5L1971.4 575L1974.1 575.6L1975.3 576.2L1978.8 576.7L1986.2 577L1995.3 577.2L2004 577.4L2010 577.5L2017 578.4Z" fill="#bae0b5" stroke="#86a886" stroke-width="1.1"/><path d="M1596 578.4L1602 573L1607.5 563L1613 554L1619 548L1624.8 545.4L1630 545.7L1690 545.7L1697.4 546L1704.3 549L1710.4 553.5L1718 559L1726 564L1733 568L1739 571L1746 578.4Z" fill="url(#hb)"/><path d="M1628.5 545.7H1690L1697.4 546 1704.3 549 1710.4 553.5 1718 559 1726 564 1733 568 1739 571M1630 571.7H1699" fill="none" stroke="#9a9a9a" stroke-width="1.5"/><clipPath id="cC"><path d="M1585.6 578.4L1586.7 567.5L1589.9 547.5L1593 503.9L1596.2 425.3L1599.3 310.4L1602.5 178.7L1605.6 70.2L1608.8 27.9L1612 70.2L1615.1 178.7L1618.3 310.4L1621.4 425.3L1624.6 503.9L1627.7 547.5L1630.9 567.5L1631.9 578.4Z"/><path d="M1701 578.4L1702 578.2L1703 577.9L1704 577.6L1705 577.2L1706 576.8L1707 576.4L1708 576L1709 575.5L1710 575.1L1711 574.5L1712 574L1713 573.5L1714 573L1715 572.6L1716 572.1L1717 571.7L1718 571.3L1719 571L1720 570.7L1721 570.6L1722 570.4L1723 570.4L1724 570.4L1725 570.6L1726 570.7L1727 571L1728 571.3L1729 571.7L1730 572.1L1731 572.6L1732 573L1733 573.5L1734 574L1735 574.5L1736 575.1L1737 575.5L1738 576L1739 576.4L1740 576.8L1741 577.2L1742 577.6L1743 577.9L1744 578.2L1745 578.4Z"/></clipPath><path d="M1585.6 578.4L1586.7 567.5L1589.9 547.5L1593 503.9L1596.2 425.3L1599.3 310.4L1602.5 178.7L1605.6 70.2L1608.8 27.9L1612 70.2L1615.1 178.7L1618.3 310.4L1621.4 425.3L1624.6 503.9L1627.7 547.5L1630.9 567.5L1631.9 578.4Z" fill="#e71d23" stroke="#3a0c0c" stroke-width="1.3"/><path d="M1701 578.4L1702 578.2L1703 577.9L1704 577.6L1705 577.2L1706 576.8L1707 576.4L1708 576L1709 575.5L1710 575.1L1711 574.5L1712 574L1713 573.5L1714 573L1715 572.6L1716 572.1L1717 571.7L1718 571.3L1719 571L1720 570.7L1721 570.6L1722 570.4L1723 570.4L1724 570.4L1725 570.6L1726 570.7L1727 571L1728 571.3L1729 571.7L1730 572.1L1731 572.6L1732 573L1733 573.5L1734 574L1735 574.5L1736 575.1L1737 575.5L1738 576L1739 576.4L1740 576.8L1741 577.2L1742 577.6L1743 577.9L1744 578.2L1745 578.4Z" fill="#c8161e"/><g clip-path="url(#cC)"><path d="M1585 578.4L1586 576.4L1587 574.1L1588 571.5L1589 568.6L1590 565.6L1591 562.3L1592 558.9L1593 555.5L1594 552.1L1595 548.9L1596 546L1597 543.4L1598 541.3L1599 539.7L1600 538.7L1601 538.4L1602 538.7L1603 539.7L1604 541.2L1605 543.3L1606 545.8L1607 548.7L1608 551.8L1609 555.1L1610 558.4L1611 561.8L1612 565L1613 568L1614 570.8L1615 573.3L1616 575.6L1617 577.5Z" fill="#b51a27" stroke="#6a0d14" stroke-width="1"/><path d="M1596 578.4L1602 573L1607.5 563L1613 554L1619 548L1624.8 545.4L1630 545.7L1690 545.7L1697.4 546L1704.3 549L1710.4 553.5L1718 559L1726 564L1733 568L1739 571L1746 578.4Z" fill="url(#hd)" stroke="#5a0c10" stroke-width="1"/><path d="M1701 578.4L1702 578.2L1703 577.9L1704 577.6L1705 577.2L1706 576.8L1707 576.4L1708 576L1709 575.5L1710 575.1L1711 574.5L1712 574L1713 573.5L1714 573L1715 572.6L1716 572.1L1717 571.7L1718 571.3L1719 571L1720 570.7L1721 570.6L1722 570.4L1723 570.4L1724 570.4L1725 570.6L1726 570.7L1727 571L1728 571.3L1729 571.7L1730 572.1L1731 572.6L1732 573L1733 573.5L1734 574L1735 574.5L1736 575.1L1737 575.5L1738 576L1739 576.4L1740 576.8L1741 577.2L1742 577.6L1743 577.9L1744 578.2L1745 578.4Z" fill="url(#hd2)"/></g><path d="M1532 577.5L1545 573L1566 567L1578 562L1584 555L1587 538L1589.2 500L1591.9 440.5L1595.1 351.1L1598.2 243L1601.4 135.6L1604.5 55.3L1608.7 25.4L1612.9 55.3L1616 135.6L1619.2 243L1622.3 351.1L1625.5 440.5L1628 490L1632.6 526L1637.8 537.8L1650 537.5L1670 536.5L1685 535L1691.6 534L1697.4 530L1704.3 520.4L1711.3 503L1717.4 489.1L1721.7 486.5L1726.1 490.9L1730.4 504.8L1735.7 525.7L1740.9 544.8L1747 558.7L1753 563.9L1770 566L1785 564L1799.7 561L1822.1 557.3L1843 557.3L1856.4 567.8L1874.3 570.7L1926 573L1971 574.5L2017 576.5" fill="none" stroke="#8c8c8c" stroke-width="1.6" stroke-linejoin="round"/><path d="M1633 530L1638.5 541L1650 541.5L1680 539.5L1692 536.5L1699 531L1706 521L1713 506L1719 494.5L1723 492L1727 495L1731.5 507.5L1736.5 528L1741.8 547L1748 560L1754 565L1770 567.5L1786 566L1800 563.5L1822 559.5L1843 559.5L1856 569L1874 572" fill="none" stroke="#7a7a7a" stroke-width="1.2" stroke-linejoin="round"/><path d="M1521.7 577.7L1528 576.5L1530.4 574L1531.9 569.7L1533.5 572.3L1543.5 571.9L1558 569.7L1572.5 567.9L1579.7 569.7L1583.3 566.5L1584.6 560L1586.3 549.5L1588.3 526L1590.2 492L1592.9 456.2L1596.1 368.1L1599.2 257.7L1602.4 144.9L1605.5 59L1608.7 26.7L1611.9 59L1615 144.9L1618.2 257.7L1621.3 368.1L1624.5 456.2L1627 486L1630 508L1635.2 530L1640.4 543.7L1650.8 544.3L1661.3 541.7L1670.7 538.5L1682.3 536.2L1687 532.6L1693.9 520.4L1702.6 506.5L1709.6 498.7L1716.5 496.1L1722.6 497.8L1728.7 508.3L1735.7 529.1L1742.6 548.3L1749.6 558.7L1756.5 563.9L1770.4 565.3L1784.3 562.2L1799.7 557.3L1822.1 555.1L1843 555.1L1853.4 561.8L1863.9 567.8L1889.3 569.3L1926.6 571.5L1971.3 572.2L1986.3 574.5L2017.6 574.5" fill="none" stroke="#1c1a1a" stroke-width="1.7" stroke-linejoin="round"/><path d="M1945 576.3L1985 575.8 2018 576.2V578H1945z" fill="#3d4a3f"/><g transform="translate(1924 525.6)" fill="none" stroke="#93a9b8"><path d="M44.4 0.5L43.9 2.8L43.2 5L42.3 7.2L41.2 9.3L39.9 11.2L38.2 12.9L38.6 15.3L38.5 17.6L38.1 19.9L37.6 22.2L36.9 24.4L36 26.6L34.9 28.7L33.6 30.7L32.1 32.6L30.5 34.4L28.8 36.1L26.9 37.6L24.9 38.9L22.8 40L20.6 41L18.4 41.8L16.1 42.4L13.7 42.8L11.4 43L9 43L6.7 42.8L4.4 42.4L2.2 41.7L0 40.7L-2.2 41.7L-4.4 42.4L-6.7 42.8L-9 43L-11.4 43L-13.7 42.8L-16.1 42.4L-18.4 41.8L-20.6 41L-22.8 40L-24.9 38.9L-26.9 37.6L-28.8 36.1L-30.5 34.4L-32.1 32.6L-33.6 30.7L-34.9 28.7L-36 26.6L-36.9 24.4L-37.6 22.2L-38.1 19.9L-38.5 17.6L-38.6 15.3L-38.2 12.9L-39.9 11.2L-41.2 9.3L-42.3 7.2L-43.2 5L-43.9 2.8L-44.4 0.5L-44.8 -1.8L-44.9 -4.2L-44.9 -6.6L-44.6 -9L-44.2 -11.3L-43.6 -13.7L-42.7 -15.9L-41.7 -18.1L-40.5 -20.1L-39.1 -22.1L-37.6 -23.9L-36 -25.6L-34.2 -27.2L-32.3 -28.6L-30.3 -29.8L-28.2 -30.8L-26 -31.6L-23.6 -32L-22.5 -34.1L-21 -36L-19.4 -37.6L-17.7 -39.2L-15.8 -40.5L-13.7 -41.8L-11.6 -42.8L-9.4 -43.7L-7.1 -44.4L-4.8 -44.9L-2.4 -45.2L0 -45.3L2.4 -45.2L4.8 -44.9L7.1 -44.4L9.4 -43.7L11.6 -42.8L13.7 -41.8L15.8 -40.5L17.7 -39.2L19.4 -37.6L21 -36L22.5 -34.1L23.6 -32L26 -31.6L28.2 -30.8L30.3 -29.8L32.3 -28.6L34.2 -27.2L36 -25.6L37.6 -23.9L39.1 -22.1L40.5 -20.1L41.7 -18.1L42.7 -15.9L43.6 -13.7L44.2 -11.3L44.6 -9L44.9 -6.6L44.9 -4.2L44.8 -1.8Z" stroke-width="4" opacity=".22"/><path d="M44.4 0.5L43.9 2.8L43.2 5L42.3 7.2L41.2 9.3L39.9 11.2L38.2 12.9L38.6 15.3L38.5 17.6L38.1 19.9L37.6 22.2L36.9 24.4L36 26.6L34.9 28.7L33.6 30.7L32.1 32.6L30.5 34.4L28.8 36.1L26.9 37.6L24.9 38.9L22.8 40L20.6 41L18.4 41.8L16.1 42.4L13.7 42.8L11.4 43L9 43L6.7 42.8L4.4 42.4L2.2 41.7L0 40.7L-2.2 41.7L-4.4 42.4L-6.7 42.8L-9 43L-11.4 43L-13.7 42.8L-16.1 42.4L-18.4 41.8L-20.6 41L-22.8 40L-24.9 38.9L-26.9 37.6L-28.8 36.1L-30.5 34.4L-32.1 32.6L-33.6 30.7L-34.9 28.7L-36 26.6L-36.9 24.4L-37.6 22.2L-38.1 19.9L-38.5 17.6L-38.6 15.3L-38.2 12.9L-39.9 11.2L-41.2 9.3L-42.3 7.2L-43.2 5L-43.9 2.8L-44.4 0.5L-44.8 -1.8L-44.9 -4.2L-44.9 -6.6L-44.6 -9L-44.2 -11.3L-43.6 -13.7L-42.7 -15.9L-41.7 -18.1L-40.5 -20.1L-39.1 -22.1L-37.6 -23.9L-36 -25.6L-34.2 -27.2L-32.3 -28.6L-30.3 -29.8L-28.2 -30.8L-26 -31.6L-23.6 -32L-22.5 -34.1L-21 -36L-19.4 -37.6L-17.7 -39.2L-15.8 -40.5L-13.7 -41.8L-11.6 -42.8L-9.4 -43.7L-7.1 -44.4L-4.8 -44.9L-2.4 -45.2L0 -45.3L2.4 -45.2L4.8 -44.9L7.1 -44.4L9.4 -43.7L11.6 -42.8L13.7 -41.8L15.8 -40.5L17.7 -39.2L19.4 -37.6L21 -36L22.5 -34.1L23.6 -32L26 -31.6L28.2 -30.8L30.3 -29.8L32.3 -28.6L34.2 -27.2L36 -25.6L37.6 -23.9L39.1 -22.1L40.5 -20.1L41.7 -18.1L42.7 -15.9L43.6 -13.7L44.2 -11.3L44.6 -9L44.9 -6.6L44.9 -4.2L44.8 -1.8Z" stroke-width="1.6"/><circle r="25.3" cy="1" stroke-width="3.4" opacity=".2"/><circle r="25.3" cy="1" stroke-width="1.5"/><path d="M-33.5 8.5A34.5 34.5 0 0 0 33.5 8.5" stroke-width="5.6" stroke-dasharray="3 1.3 2 .9 4 1.5 1.5 1.1 2.6 1.8" opacity=".5"/><path d="M-32.5 9.5A34 34 0 0 0 32.5 9.5" stroke-width="2.2" stroke-dasharray="5 2.4 3 2" opacity=".35"/><g transform="translate(-30.3 -14.9) rotate(-63)" stroke-width="1.3" opacity=".85"><rect x="-3.2" y="-3.2" width="6.4" height="6.4" fill="#c3d0d8" stroke="none"/><path d="M-3.4 -1.2H3.4M-3.4 1.6H3.4M-1.4 -3.6V3.6M1.6 -3.6V3.6"/></g><g transform="translate(-17.5 -28.6) rotate(-31)" stroke-width="1.3" opacity=".85"><rect x="-3.2" y="-3.2" width="6.4" height="6.4" fill="#c3d0d8" stroke="none"/><path d="M-3.4 -1.2H3.4M-3.4 1.6H3.4M-1.4 -3.6V3.6M1.6 -3.6V3.6"/></g><g transform="translate(0 -33.5) rotate(0)" stroke-width="1.3" opacity=".85"><rect x="-3.2" y="-3.2" width="6.4" height="6.4" fill="#c3d0d8" stroke="none"/><path d="M-3.4 -1.2H3.4M-3.4 1.6H3.4M-1.4 -3.6V3.6M1.6 -3.6V3.6"/></g><g transform="translate(18.5 -28) rotate(33)" stroke-width="1.3" opacity=".85"><rect x="-3.2" y="-3.2" width="6.4" height="6.4" fill="#c3d0d8" stroke="none"/><path d="M-3.4 -1.2H3.4M-3.4 1.6H3.4M-1.4 -3.6V3.6M1.6 -3.6V3.6"/></g><g transform="translate(30.6 -14.4) rotate(64)" stroke-width="1.3" opacity=".85"><rect x="-3.2" y="-3.2" width="6.4" height="6.4" fill="#c3d0d8" stroke="none"/><path d="M-3.4 -1.2H3.4M-3.4 1.6H3.4M-1.4 -3.6V3.6M1.6 -3.6V3.6"/></g><path stroke="#dca06f" stroke-width=".8" fill="#d3884d" d="M-25.5 -7.2L-22.3 -9.6L-16.7 -12L-12 -14.4L-8.8 -12L-6.4 -8.8L-3.5 -5.3L0 -3.5L4.5 -6.1L8.8 -9.6L11.2 -15.2L12.8 -19.9L17.5 -20.7L19.9 -16.7L24.7 -15.2L23.9 -11.2L19.9 -8.8L18.3 -5.6L15.9 -3.2L16.7 0.8L19.1 4L19.9 8.8L17.5 12.8L13.6 15.2L9.6 16.7L7.2 20.7L4.8 18.3L2.4 15.9L0 18.3L-3.2 17.5L-5.6 14.4L-6.4 10.4L-9.6 8.8L-13.6 9.6L-17.5 8L-21.5 5.6L-23.9 1.6L-25.5 -3.2Z"/><path d="M0 -23.5V25M-6.5 -21.5H6.5M-4 -19.5L0 -16 4 -19.5" stroke-width="1.6"/><path d="M0 -12c-5 3 5 6 0 9s5 6 0 9 4 6 0 8" stroke-width="1.5" stroke="#b4c3cd"/></g><circle cx="1972.7" cy="535" r="17.7" fill="#fffef2" stroke="#0b0b0b" stroke-width="3.2"/><text x="1963.8" y="545.7" font-family="Liberation Serif, serif" font-size="43" fill="#0b0b0b" stroke="#0b0b0b" stroke-width=".5">c</text><path d="M1493.6 26.9V596.9" stroke="#4b4544" stroke-width="3.2" fill="none"/><path d="M1477.6 578.4H2018.3" stroke="#3a3a3a" stroke-width="2.7" fill="none"/><path d="M1484.1 556.3h9.5M1484.1 534.3h9.5M1484.1 512.2h9.5M1484.1 490.1h9.5M1477.1 468.1h16.5M1484.1 446h9.5M1484.1 423.9h9.5M1484.1 401.9h9.5M1484.1 379.8h9.5M1477.1 357.8h16.5M1484.1 335.7h9.5M1484.1 313.6h9.5M1484.1 291.6h9.5M1484.1 269.5h9.5M1477.1 247.4h16.5M1484.1 225.4h9.5M1484.1 203.3h9.5M1484.1 181.2h9.5M1484.1 159.2h9.5M1477.1 137.1h16.5M1484.1 115h9.5M1484.1 93h9.5M1484.1 70.9h9.5M1484.1 48.8h9.5M1518.8 578.4v9.8M1544 578.4v9.8M1569.3 578.4v9.8M1594.5 578.4v9.8M1619.7 578.4v17.8M1644.9 578.4v9.8M1670.2 578.4v9.8M1695.4 578.4v9.8M1720.6 578.4v9.8M1745.8 578.4v17.8M1771.1 578.4v9.8M1796.3 578.4v9.8M1821.5 578.4v9.8M1846.7 578.4v9.8M1872 578.4v17.8M1897.2 578.4v9.8M1922.4 578.4v9.8M1947.6 578.4v9.8M1972.9 578.4v9.8M1998.1 578.4v17.8" stroke="#4b4544" stroke-width="2.7" fill="none"/><g font-family="Liberation Serif, serif" font-size="32.8" fill="#2a2423"><text transform="translate(1458.4 590.2) scale(1 1.035)" text-anchor="start">0</text><text transform="translate(1428.4 479.9) scale(1 1.035)" text-anchor="start">300</text><text transform="translate(1428.4 369.6) scale(1 1.035)" text-anchor="start">600</text><text transform="translate(1428.4 259.2) scale(1 1.035)" text-anchor="start">900</text><text transform="translate(1412 148.9) scale(1 1.035)" text-anchor="start">1200</text><text transform="translate(1483.1 627) scale(1 1.035)" text-anchor="start">0</text><text transform="translate(1600.2 627) scale(1 1.035)" text-anchor="start">40</text><text transform="translate(1730.8 627) scale(1 1.035)" text-anchor="start">80</text><text transform="translate(1848.4 627) scale(1 1.035)" text-anchor="start">120</text><text transform="translate(1974.5 627) scale(1 1.035)" text-anchor="start">160</text></g><path d="M1610.2 578.9l-10 17.5h20z" fill="#000"/><g transform="translate(1407 363.1) rotate(-90)"><text transform="scale(1 1.06)" x="0 33.2 66.4 99.6" y="0" font-family="'Liberation Serif', 'Noto Serif CJK SC', serif" font-size="33" fill="#2a2423">细胞数量</text></g><text transform="translate(1688.8 658.5) scale(1 1.035)" font-family="Liberation Serif, serif" font-size="33" fill="#2a2423">DNA</text><text transform="translate(1760.4 659.4) scale(1 1.03)" x="0 35" y="0" font-family="'Liberation Serif', 'Noto Serif CJK SC', serif" font-size="33.5" fill="#2a2423">含量</text><g font-family="Liberation Sans, sans-serif" font-size="17.6" fill="#3b48a6" stroke="#3b48a6" stroke-width=".3"><rect x="1814.3" y="107.9" width="25" height="17" fill="#bebde1" stroke="#625e66" stroke-width="1.9"/><text x="1850.6" y="124.5">Debris</text><rect x="1814.3" y="127.8" width="25" height="17" fill="#bae0b5" stroke="#625e66" stroke-width="1.9"/><text x="1850.6" y="144.3">Aggregates</text><rect x="1814.3" y="147.6" width="25" height="17" fill="#e71d23" stroke="#625e66" stroke-width="1.9"/><text x="1850.6" y="164.2">Dip G1</text><rect x="1814.3" y="167.5" width="25" height="17" fill="#e71d23" stroke="#625e66" stroke-width="1.9"/><text x="1850.6" y="184.1">Dip G2</text><rect x="1814.3" y="187.3" width="25" height="17" fill="#fff"/><rect x="1814.3" y="187.3" width="25" height="17" fill="url(#hl)" stroke="#625e66" stroke-width="1.9"/><text x="1850.6" y="203.9">Dip S</text></g></svg></body></html>
